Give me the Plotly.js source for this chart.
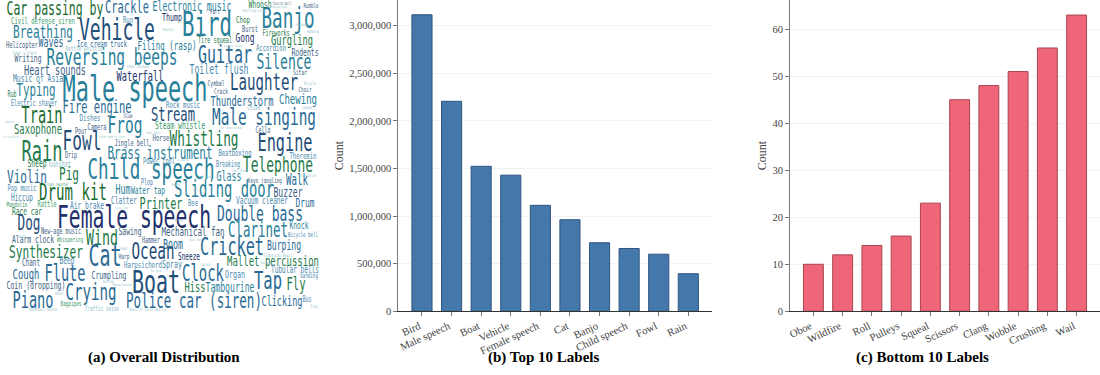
<!DOCTYPE html>
<html><head><meta charset="utf-8">
<script src="https://cdn.plot.ly/plotly-3.0.1.min.js"></script>
<style>html,body{margin:0;padding:0;background:#fff}#c{width:1100px;height:375px}</style>
</head><body><div id="c"></div><script>
const topLabels = ["Bird","Male speech","Boat","Vehicle","Female speech","Cat","Banjo","Child speech","Fowl","Rain"];
const topCounts = [3115000,2206000,1523000,1430000,1113000,962000,720000,660000,600000,395000];
const bottomLabels = ["Oboe","Wildfire","Roll","Pulleys","Squeal","Scissors","Clang","Wobble","Crushing","Wail"];
const bottomCounts = [10,12,14,16,23,45,48,51,56,63];
const topTicks = [0,500000,1000000,1500000,2000000,2500000,3000000];
const bottomTicks = [0,10,20,30,40,50,60];

const cloudWords = [
"Car passing by","Crackle","Electronic music","Vehicle","Civil defense siren","Run","Thump","Breathing","Helicopter","Waves",
"Ice cream truck","Filing (rasp)","Reversing beeps","Writing","Kettle whistle","Heart sounds","Waterfall","Music of Asia","Male speech","Typing",
"Rub","Electric shaver","Fire engine","Train","Dishes","Slam","Saxophone","Frog","Pour","Camera",
"Stream","Steam whistle","Fowl","Rain","Jingle bell","Brass instrument","Horse","Drip","Whistling","Power tool",
"Sheep","Gunshot","Child speech","Drum kit","Violin","Pig","Pop music","Hiccup","Cash register","Rattle",
"Mandolin","Race car","Air brake","Hum","Water tap","Plop","Clatter","Printer","Frying (food)","Female speech",
"Dog","New-age music","Wind","Sawing","Alarm clock","Whispering","Hammer","Mechanical fan","Boom","Synthesizer",
"Cat","Ocean","Harp","Beep","Chant","Harpsichord","Spray","Cough","Flute","Crumpling",
"Coin (dropping)","Boat","Piano","Crying","Police car (siren)","Bagpipes","Traffic noise","Whack","Basketball bounce","Music of Latin America",
"Telephone","Glass","Sliding door","Walk","Buzzer","Keys jangling","Drum","Vacuum cleaner","Bee","Double bass",
"Clarinet","Knock","Bicycle bell","Cricket","Burping","Mallet percussion","Classical music","Sneeze","Clock","Organ",
"Tap","Fly","Tubular bells","Sanding","Hiss","Tambourine","Clicking","Bus","Ping","Bird",
"Banjo","Chop","Whoosh","Fart","Church bell","Rumble","Burst","Fireworks","Gong","Tire squeal",
"Gurgling","Accordion","Guitar","Rodents","Silence","Toilet flush","Sitar","Laughter","Cymbal","Crack",
"Choir","Chewing","Thunderstorm","Rock music","Male singing","Engine","Cello","Chime","Beatboxing","Theremin",
"Breaking","Zipper (clothing)","Power windows","Drawer open or close","Soul music","String section","Country","Humming","Shuffling cards","Singing bowl",
"Synthetic singing","A capella","Air conditioning","Hair dryer","Wood block","Popcorn","Harmonica","Subway","Bicycle","Doorbell",
"Air horn","Sewing machine","Snoring","Goat","Slosh","Shatter","Caterpillar","Splash","Dial tone","Tearing"
];
const cloudX = [
55,127,192,117,43,128,172,43,22,51,
102,167,112,28,84,55,140,38,135,36,
12,34,97,42,90,128,38,125,81,97,
173,180,82,42,132,160,161,71,204,159,
37,60,151,73,27,69,22,22,58,47,
17,27,87,123,148,147,124,161,122,134,
29,61,102,130,33,70,151,193,173,46,
105,153,124,67,31,143,172,26,65,109,
36,156,33,91,194,71,102,59,43,148,
278,229,224,297,288,265,305,262,193,260,
258,299,303,232,284,273,278,189,203,235,
268,296,295,309,195,230,282,307,314,207,
288,243,260,215,282,311,250,276,245,215,
292,271,225,305,284,219,300,264,216,221,
305,298,242,183,264,285,263,254,235,303,
228,25,138,112,154,12,10,313,254,279,
233,183,231,240,205,168,303,307,310,266,
156,122,108,124,22,176,309,206,196,178
];
const cloudY = [
9,8,7,31,21,20,18,32,45,43,
44,46,58,59,49,71,77,79,90,91,
94,103,108,116,118,116,130,126,131,127,
115,126,142,152,143,153,138,155,140,161,
164,164,170,193,177,174,188,198,185,204,
205,212,206,190,191,182,201,204,208,218,
224,231,238,232,240,240,240,232,245,252,
257,252,257,261,263,265,265,274,274,276,
286,283,301,293,302,304,309,294,310,310,
165,177,190,180,193,181,203,201,203,214,
231,226,235,247,246,261,255,257,274,275,
281,285,270,276,288,288,302,299,307,25,
19,20,5,12,4,6,29,33,38,40,
41,48,55,53,62,70,73,83,84,92,
90,99,102,105,118,143,130,108,153,156,
164,53,67,137,133,137,122,32,11,7,
46,160,128,171,177,30,25,108,84,263,
271,285,282,249,237,185,176,265,240,220
];
const cloudWidth = [
97,44,79,76,64,10,20,60,32,25,
50,59,131,27,37,62,47,50,145,39,
9,46,69,41,21,9,48,35,12,19,
44,50,39,41,35,105,17,12,69,32,
19,22,127,68,40,20,29,22,21,19,
21,30,34,15,34,12,26,43,14,154,
23,40,32,23,42,26,18,63,20,74,
33,43,11,15,18,38,20,27,41,35,
59,48,41,51,136,21,34,8,28,37,
70,25,100,22,29,34,19,52,10,86,
60,19,30,64,34,92,29,22,42,20,
28,19,48,18,21,49,41,9,7,50,
53,14,23,10,19,15,16,27,19,34,
42,30,54,27,55,59,14,68,17,14,
13,38,63,34,104,55,15,13,33,27,
24,25,22,26,15,17,10,12,23,17,
19,11,22,15,13,11,14,10,12,11,
11,19,11,7,8,9,16,9,12,9
];
const cloudShade = [
5,2,3,1,8,6,0,3,9,2,
2,3,3,9,7,9,0,6,3,3,
4,6,2,5,6,9,4,3,9,9,
1,8,1,4,9,3,9,9,4,6,
4,7,3,5,2,4,6,6,8,8,
8,4,6,3,3,6,6,4,7,0,
1,9,4,9,9,8,9,9,2,4,
2,1,9,6,9,6,6,2,2,9,
9,1,2,2,2,8,7,7,7,7,
4,3,3,2,9,9,2,6,6,2,
3,3,6,2,2,4,7,0,2,6,
2,4,6,6,4,3,2,6,7,3,
3,4,4,9,9,9,9,4,0,4,
4,6,2,9,3,6,9,1,9,9,
9,3,2,6,2,1,9,7,6,6,
6,7,7,7,7,7,7,7,7,7,
7,7,7,7,7,7,7,7,7,7,
7,7,7,7,7,7,7,7,7,7
];
const cloudPalette = ["#22306b","#1f4e79","#2a6a95","#2a7f9a","#1e7a4a","#1a6b2f","#4a8ab0","#8fbfca","#3a9a6a","#3d5f85"];
const panelTitles = ["(a) Overall Distribution","(b) Top 10 Labels","(c) Bottom 10 Labels"];
const titleX = [164,543,922];

const W=1100,H=375, base=(H-311.3)/H, serif='"Liberation Serif", "Times New Roman", serif';
const condense=0.61, monoAdvance=0.602;
const hiddenAxis={visible:false,showgrid:false,zeroline:false,fixedrange:true};
const cloudSizes=cloudWords.map((w,i)=>cloudWidth[i]/w.length/(monoAdvance*condense));

function barAxisY(ticks,maxv,anchor,title){
  return {anchor,domain:[base,1],range:[0,maxv],tickmode:'array',tickvals:ticks,tickformat:',',
    showline:true,linecolor:'#777',linewidth:1.5,ticks:'outside',ticklen:3.5,tickcolor:'#777',tickwidth:1,
    showgrid:true,gridcolor:'#f2f2f2',gridwidth:1,zeroline:false,
    tickfont:{family:serif,size:10.5,color:'#444'},
    title:{text:title,font:{family:serif,size:12,color:'#444'},standoff:3}};
}
function barAxisX(dom,anchor){
  return {anchor,domain:dom,range:[-0.8,9.8],type:'category',tickangle:-25,
    showline:true,linecolor:'#333',linewidth:1,ticks:'outside',ticklen:3.5,tickcolor:'#777',tickwidth:1,
    ticklabelshift:-3,
    showgrid:false,zeroline:false,tickfont:{family:serif,size:10.7,color:'#444'}};
}

const data=[
 {type:'scatter',mode:'text',xaxis:'x',yaxis:'y',x:cloudX,y:cloudY.map((y,i)=>y+0.06*cloudSizes[i]),text:cloudWords,textposition:'middle center',cliponaxis:false,hoverinfo:'skip',
  textfont:{family:'"DejaVu Sans Mono", monospace',size:cloudSizes,color:cloudShade.map(s=>cloudPalette[s])}},
 {type:'bar',xaxis:'x2',yaxis:'y2',x:topLabels,y:topCounts,width:0.68,
  marker:{color:'#4477aa',line:{color:'#2f5680',width:1}}},
 {type:'bar',xaxis:'x3',yaxis:'y3',x:bottomLabels,y:bottomCounts,width:0.68,
  marker:{color:'#ee6677',line:{color:'#a84552',width:1}}}
];
const layout={width:W,height:H,margin:{l:0,r:0,t:0,b:0},paper_bgcolor:'#fff',plot_bgcolor:'#fff',showlegend:false,
  xaxis:Object.assign({domain:[0,345/W],range:[0,345],anchor:'y'},hiddenAxis),
  yaxis:Object.assign({domain:[0,1],range:[H,0],anchor:'x'},hiddenAxis),
  xaxis2:barAxisX([398.3/W,712/W],'y2'),
  yaxis2:barAxisY(topTicks,3270000,'x2','Count'),
  xaxis3:barAxisX([790/W,1],'y3'),
  yaxis3:barAxisY(bottomTicks,66.2,'x3','Count'),
  annotations:panelTitles.map((t,i)=>({text:'<b>'+t+'</b>',xref:'paper',yref:'paper',x:titleX[i]/W,y:(H-357)/H,xanchor:'center',yanchor:'middle',showarrow:false,
    font:{family:serif,size:15,color:'#000'}}))
};
Plotly.newPlot('c',data,layout,{staticPlot:true,displayModeBar:false}).then(()=>{
  document.querySelectorAll('#c .textpoint text').forEach(t=>{
    t.setAttribute('lengthAdjust','spacingAndGlyphs');
    t.setAttribute('textLength',t.getComputedTextLength()*condense);
  });
});
</script></body></html>
